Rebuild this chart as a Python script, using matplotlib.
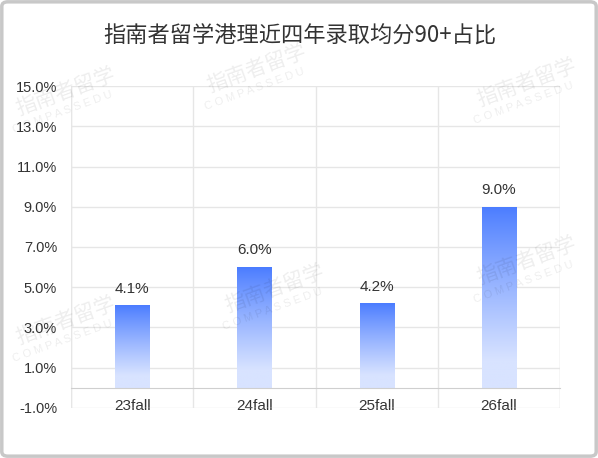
import numpy as np
import matplotlib as mpl
import matplotlib.pyplot as plt
from matplotlib.patches import FancyBboxPatch

mpl.rcParams['font.family'] = ['Noto Sans CJK SC', 'DejaVu Sans']
num_font = ['Liberation Sans', 'DejaVu Sans']

# data
categories = ['23fall', '24fall', '25fall', '26fall']
values = [4.1, 6.0, 4.2, 9.0]
yticks = [-1, 1, 3, 5, 7, 9, 11, 13, 15]
title = '指南者留学港理近四年录取均分90+占比'

fig = plt.figure(figsize=(5.98, 4.58), dpi=100)
fig.patch.set_facecolor('white')
# grey frame round the picture
fig.patches.append(FancyBboxPatch((0.003, 0.004), 0.994, 0.992, boxstyle='round,pad=0,rounding_size=0.01',
                                  transform=fig.transFigure, fill=False, edgecolor='#c8c8c8', linewidth=2.5))

ax = fig.add_axes([0.1187, 0.1092, 0.8178, 0.703])
x = np.arange(len(categories))
ax.set_xlim(-0.5, len(categories) - 0.5)
ax.set_ylim(-1, 15)
ax.set_yticks(yticks)
ax.set_yticklabels(['{0:.1f}%'.format(v) for v in yticks], fontsize=10.5, color='#333333', family=num_font)
ax.tick_params(axis='y', length=0, pad=10)

# grid
ax.set_xticks(np.arange(-0.5, len(categories)), minor=True)
ax.grid(axis='y', color='#e6e6e6', linewidth=1)
ax.grid(axis='x', which='minor', color='#e6e6e6', linewidth=1)
ax.set_axisbelow(True)
for s in ['top', 'left', 'right']:
    ax.spines[s].set_visible(False)
ax.spines['bottom'].set_position(('data', 0))
ax.spines['bottom'].set_color('#cfcfcf')
ax.set_xticks(x)
ax.set_xticklabels(categories, fontsize=11, color='#333333', family=num_font)
ax.tick_params(axis='x', which='both', length=0, pad=8)
ax.axvline(-0.5, color='#e6e6e6', linewidth=1)
ax.axvline(len(categories) - 0.5, color='#e6e6e6', linewidth=1)

# gradient bars
top_c = np.array(mpl.colors.to_rgb('#4a7cff'))
bot_c = np.array(mpl.colors.to_rgb('#d8e3ff'))
t = np.linspace(0, 1, 256)
t = np.clip(t / 0.85, 0, 1) ** 0.9
grad = (top_c[None, :] * (1 - t[:, None]) + bot_c[None, :] * t[:, None])[:, None, :]
w = 0.28
for xi, v in zip(x, values):
    bar = ax.bar(xi, v, width=w, color='none', edgecolor='none')[0]
    im = ax.imshow(grad, extent=[xi - w / 2, xi + w / 2, 0, v], aspect='auto', zorder=2)
    im.set_clip_path(bar)
    ax.annotate('{0:.1f}%'.format(v), (xi, v), xytext=(0, 7), textcoords='offset points',
                ha='center', va='bottom', fontsize=11, color='#333333', family=num_font)
ax.set_xlim(-0.5, len(categories) - 0.5)
ax.set_ylim(-1, 15)

fig.text(0.502, 0.922, title, ha='center', va='center', fontsize=16, color='#333333')

# faint watermarks
marks = [(0.11, 0.80), (0.43, 0.85), (0.88, 0.82), (0.11, 0.30), (0.46, 0.37), (0.88, 0.43)]
for mx, my in marks:
    fig.text(mx, my, '指南者留学', rotation=20, fontsize=15, color='#000000', alpha=0.07,
             ha='center', va='center')
    fig.text(mx - 0.005, my - 0.045, 'C O M P A S S E D U', rotation=20, fontsize=8, color='#000000',
             alpha=0.07, ha='center', va='center', family=num_font)

fig.savefig('out.png', dpi=100)
